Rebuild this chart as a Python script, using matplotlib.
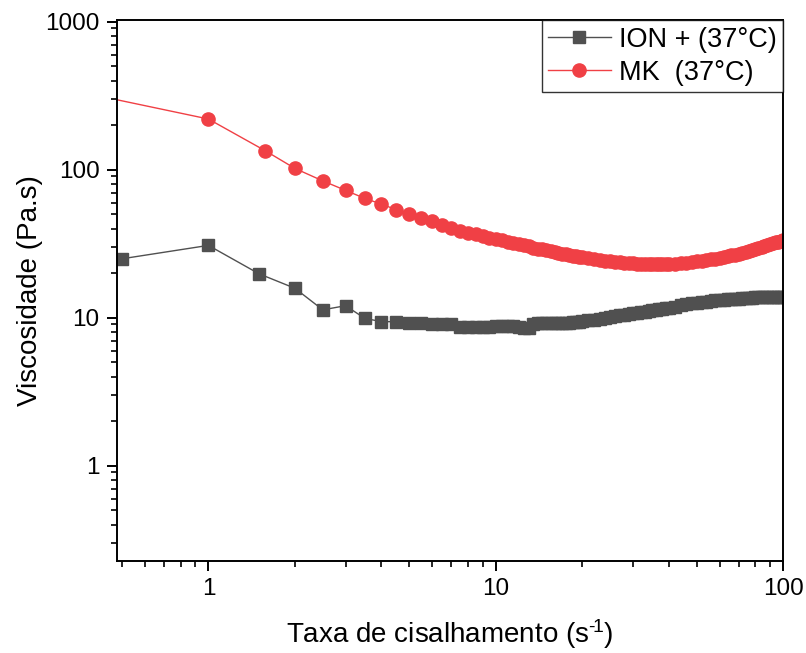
import matplotlib
matplotlib.use("Agg")
import matplotlib.pyplot as plt
from matplotlib.ticker import FuncFormatter, LogLocator, NullFormatter

plt.rcParams["font.family"] = ["Liberation Sans", "DejaVu Sans"]
plt.rcParams["mathtext.fontset"] = "custom"
plt.rcParams["mathtext.rm"] = "Liberation Sans"
plt.rcParams["mathtext.it"] = "Liberation Sans:italic"

# ION + (37 °C)
ion_x = [0.5, 1, 1.5, 2, 2.5, 3, 3.5, 4, 4.5,
         5, 5.5, 6, 6.5, 7, 7.5, 8, 8.5, 9, 9.5, 10,
         10.5, 11, 11.5, 12, 12.5, 13, 13.5, 14, 14.5, 15,
         15.5, 16, 16.5, 17, 17.5, 18, 18.5, 19, 19.5, 20,
         21, 22, 23, 24, 25, 26, 27, 28, 29, 30,
         31, 32, 33, 34, 35, 36, 37, 38, 39, 40,
         42, 44, 46, 48, 50, 52, 54, 56, 58, 60,
         62, 64, 66, 68, 70, 72, 74, 76, 78, 80,
         82, 84, 86, 88, 90, 92, 94, 96, 98, 100]
ion_y = [25.0, 30.8, 19.8, 15.8, 11.3, 12.05, 9.9, 9.4, 9.4,
         9.2, 9.15, 9.1, 9.05, 9.0, 8.65, 8.6, 8.6, 8.6, 8.65, 8.8,
         8.85, 8.85, 8.8, 8.6, 8.55, 8.5, 9.1, 9.25, 9.25, 9.2,
         9.2, 9.2, 9.2, 9.2, 9.2, 9.25, 9.3, 9.35, 9.4, 9.45,
         9.6, 9.7, 9.85, 9.95, 10.1, 10.2, 10.35, 10.45, 10.6, 10.7,
         10.8, 10.9, 11.0, 11.1, 11.2, 11.3, 11.4, 11.5, 11.6, 11.7,
         11.9, 12.1, 12.3, 12.5, 12.6, 12.75, 12.85, 13.0, 13.1, 13.2,
         13.25, 13.3, 13.35, 13.4, 13.45, 13.5, 13.55, 13.6, 13.65, 13.7,
         13.72, 13.75, 13.78, 13.8, 13.82, 13.85, 13.87, 13.88, 13.9, 13.9]

# MK (37 °C)
mk_x = [0.4, 1, 1.58, 2, 2.5, 3, 3.5, 4, 4.5,
        5, 5.5, 6, 6.5, 7, 7.5, 8, 8.5, 9, 9.5, 10,
        10.5, 11, 11.5, 12, 12.5, 13, 13.5, 14, 14.5, 15,
        15.5, 16, 16.5, 17, 17.5, 18, 18.5, 19, 19.5, 20,
        21, 22, 23, 24, 25, 26, 27, 28, 29, 30,
        31, 32, 33, 34, 35, 36, 37, 38, 39, 40,
        42, 44, 46, 48, 50, 52, 54, 56, 58, 60,
        62, 64, 66, 68, 70, 72, 74, 76, 78, 80,
        82, 84, 86, 88, 90, 92, 94, 96, 98, 100]
mk_y = [320, 220, 134, 102, 84, 72.5, 64, 58.5, 53.7,
        50.2, 47.2, 44.8, 42.5, 40.2, 38.8, 37.6, 36.5, 35.6, 34.8, 34.0,
        33.3, 32.6, 32.0, 31.4, 30.8, 30.3, 29.8, 29.3, 28.9, 28.5,
        28.1, 27.7, 27.4, 27.1, 26.8, 26.5, 26.2, 26.0, 25.8, 25.6,
        25.2, 24.9, 24.6, 24.3, 24.1, 23.9, 23.7, 23.5, 23.4, 23.3,
        23.2, 23.1, 23.0, 22.95, 22.9, 22.9, 22.9, 22.9, 22.95, 23.0,
        23.1, 23.3, 23.5, 23.7, 24.0, 24.2, 24.5, 24.8, 25.1, 25.4,
        25.7, 26.0, 26.4, 26.7, 27.1, 27.5, 27.9, 28.3, 28.7, 29.1,
        29.5, 30.0, 30.5, 30.9, 31.4, 31.8, 32.3, 32.7, 33.2, 33.6]

fig = plt.figure(figsize=(8.06, 6.53), dpi=100)
ax = fig.add_axes([0.1452, 0.1409, 0.8266, 0.8285])

ax.plot(ion_x, ion_y, color="#505050", lw=1, marker="s", ms=8,
        mec="#505050", mfc="#505050", label="ION + (37°C)")
ax.plot(mk_x, mk_y, color="#F04045", lw=1, marker="o", ms=9.5,
        mec="#F04045", mfc="#F04045", label="MK  (37°C)")

ax.set_xscale("log")
ax.set_yscale("log")
ax.set_xlim(0.481, 100)
ax.set_ylim(0.227, 1027)

fmt = FuncFormatter(lambda v, p: f"{v:g}")
ax.xaxis.set_major_formatter(fmt)
ax.yaxis.set_major_formatter(fmt)
ax.xaxis.set_minor_locator(LogLocator(base=10, subs=range(2, 10)))
ax.yaxis.set_minor_locator(LogLocator(base=10, subs=range(2, 10)))
ax.xaxis.set_minor_formatter(NullFormatter())
ax.yaxis.set_minor_formatter(NullFormatter())

for s in ax.spines.values():
    s.set_linewidth(1.4)
ax.tick_params(which="major", direction="out", length=7.5, width=1.4,
               labelsize=17.5, pad=5, top=False, right=False)
ax.tick_params(which="minor", direction="out", length=4, width=1.2,
               top=False, right=False)

ax.set_xlabel("Taxa de cisalhamento (s$^{\u2010\\!1}$)", fontsize=20, labelpad=12)
ax.set_ylabel("Viscosidade (Pa.s)", fontsize=20, labelpad=2)

leg = ax.legend(loc="upper right", borderaxespad=0, fontsize=19.5,
                frameon=True, fancybox=False, handlelength=2.3,
                handletextpad=0.3, borderpad=0.25, labelspacing=0.25)
leg.get_frame().set_edgecolor("black")
leg.get_frame().set_linewidth(1.0)

fig.savefig("out.png", dpi=100)
